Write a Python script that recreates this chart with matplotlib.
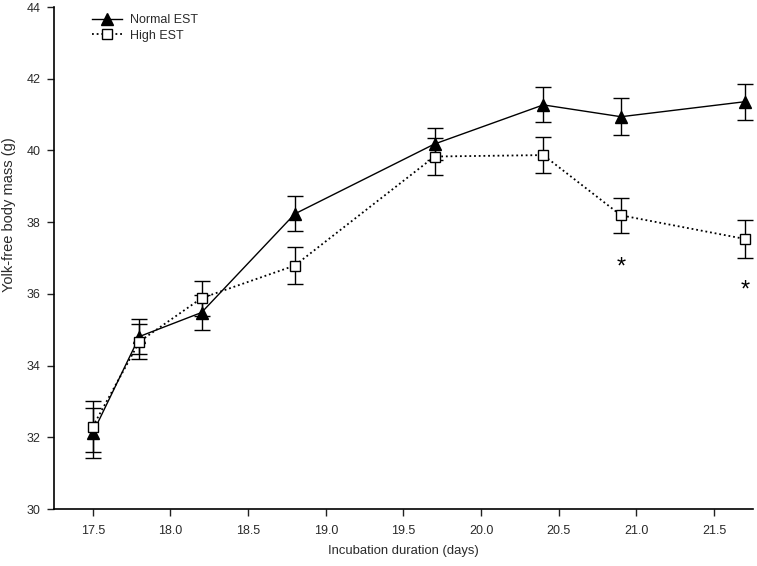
import matplotlib
matplotlib.use("Agg")
import matplotlib.pyplot as plt
from matplotlib.lines import Line2D

plt.rcParams['font.family'] = ['Liberation Sans', 'DejaVu Sans']

days = [17.5, 17.8, 18.2, 18.8, 19.7, 20.4, 20.9, 21.7]
normal_mean = [32.12, 34.81, 35.48, 38.23, 40.18, 41.27, 40.94, 41.36]
normal_err = [0.71, 0.50, 0.48, 0.49, 0.45, 0.49, 0.51, 0.50]
high_mean = [32.30, 34.67, 35.88, 36.79, 39.83, 39.87, 38.19, 37.53]
high_err = [0.70, 0.50, 0.49, 0.52, 0.52, 0.50, 0.49, 0.52]
sig_days = [20.9, 21.7]
sig_y = [36.86, 36.22]

FS = 9
TXT = '#2a2a2a'
fig = plt.figure(figsize=(7.57, 5.66), dpi=100)
ax = fig.add_axes([54/757, 1-509/566, (753-54)/757, (509-7)/566])

dotted = (0, (1, 1.6))
ax.errorbar(days, normal_mean, yerr=normal_err, color='black', lw=1.0,
            marker='^', markersize=8.5, mfc='black', mec='black',
            capsize=5.5, elinewidth=1.0, capthick=1.0, zorder=3)
ax.errorbar(days, high_mean, yerr=high_err, color='black', lw=1.3,
            linestyle=dotted,
            marker='s', markersize=6.5, mfc='white', mec='black', mew=1.0,
            capsize=5.5, elinewidth=1.0, capthick=1.0, zorder=4)

for x, y in zip(sig_days, sig_y):
    ax.annotate('*', (x, y), xytext=(0, -3.5), textcoords='offset points',
                ha='center', va='center', fontsize=17)

ax.set_xlim(17.25, 21.75)
ax.set_ylim(30, 44)
ax.set_xticks([17.5, 18.0, 18.5, 19.0, 19.5, 20.0, 20.5, 21.0, 21.5])
ax.set_xticklabels(['17.5', '18.0', '18.5', '19.0', '19.5', '20.0', '20.5', '21.0', '21.5'])
ax.set_yticks([30, 32, 34, 36, 38, 40, 42, 44])
ax.tick_params(direction='out', length=5, width=1.0, labelsize=FS,
               color='#222222', labelcolor=TXT)
ax.tick_params(axis='x', pad=6.5)
ax.tick_params(axis='y', pad=4.5)
for s in ['top', 'right']:
    ax.spines[s].set_visible(False)
for s in ['left', 'bottom']:
    ax.spines[s].set_linewidth(1.2)

ax.set_xlabel('Incubation duration (days)', fontsize=9.4, labelpad=6, color=TXT)
fig.text(9/757, 1-215/566, 'Yolk-free body mass (g)', rotation=90,
         ha='center', va='center', fontsize=10.5, color=TXT)

handles = [
    Line2D([], [], color='black', lw=1.0, marker='^', markersize=8.5,
           mfc='black', mec='black'),
    Line2D([], [], color='black', lw=1.3, linestyle=dotted, marker='s',
           markersize=6.5, mfc='white', mec='black', mew=1.0),
]
leg = ax.legend(handles, ['Normal EST', 'High EST'], loc='upper left',
                bbox_to_anchor=((92-54)/699, 1-(14-7)/502), frameon=False,
                fontsize=FS, handlelength=2.4, handletextpad=0.6,
                labelspacing=0.3, borderpad=0, borderaxespad=0)
for t in leg.get_texts():
    t.set_color(TXT)

fig.savefig('out.png', dpi=100)
